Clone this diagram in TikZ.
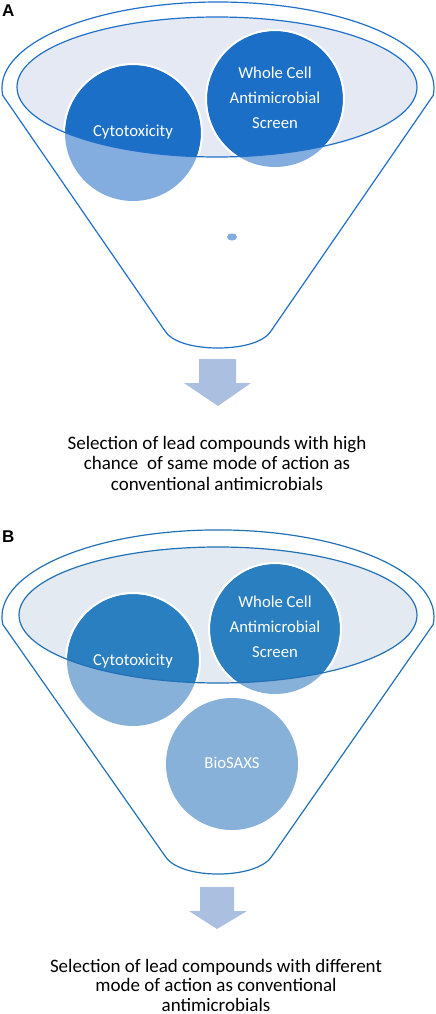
\documentclass[tikz,border=0pt]{standalone}
\usepackage{fontspec}
\setmainfont{Carlito}
\newfontfamily\panelfont{Liberation Sans}
\definecolor{adark}{HTML}{1C6FC6}
\definecolor{alight}{HTML}{83ADDF}
\definecolor{afill}{HTML}{E5E9F4}
\definecolor{aline}{HTML}{1F70C9}
\definecolor{bdark}{HTML}{2A7FC0}
\definecolor{blight}{HTML}{87B1D8}
\definecolor{bfill}{HTML}{E3EAF2}
\definecolor{bline}{HTML}{2271B5}
\definecolor{arrowc}{HTML}{ABBFE1}
\tikzset{
  funnelline/.style={line width=1.2pt},
  ring/.style={draw=white,line width=2pt},
  circtext/.style={text=white,font=\fontsize{16.7}{25}\selectfont,align=center,inner sep=0pt},
  captext/.style={text=black,font=\fontsize{19}{20.5}\selectfont,align=center,inner sep=0pt},
  panellabel/.style={font=\panelfont\bfseries\fontsize{17}{17}\selectfont,inner sep=0pt,anchor=north west},
  blockarrow/.style={fill=arrowc,draw=none}
}
\begin{document}
\begin{tikzpicture}[x=1pt,y=-1pt]
\useasboundingbox (0,0) rectangle (436,1014);

% ---------------- Panel A ----------------
\node[panellabel] (labA) at (2,5) {A};
\fill[afill] (217,87) ellipse[x radius=200,y radius=70];
\fill[alight] (133,133) circle[radius=68];
\fill[alight] (275,99) circle[radius=68];
\fill[alight] (232,237) ellipse[x radius=5,y radius=3.6];
\begin{scope}
  \clip (217,87) ellipse[x radius=200,y radius=70];
  \fill[adark] (133,133) circle[radius=68];
  \fill[adark] (275,99) circle[radius=68];
  \draw[ring] (133,133) circle[radius=69];
  \draw[ring] (275,99) circle[radius=69];
\end{scope}
\draw[aline,funnelline] (217,87) ellipse[x radius=200,y radius=70];
\draw[aline,funnelline] (165,331) -- (2.8,95.5)
  arc[start angle=175,end angle=365,x radius=216,y radius=86]
  -- (271,331) .. controls (265,341) and (245,348) .. (218,348)
  .. controls (191,348) and (171,341) .. (165,331);
\node[circtext] (cytoA) at (133,132) {Cytotoxicity};
\node[circtext] (wcA) at (275,98) {Whole Cell\\Antimicrobial\\Screen};
\fill[blockarrow] (199,359) -- (236,359) -- (236,383) -- (251,383) -- (218,406) -- (184,383) -- (199,383) -- cycle;
\node[captext] (selA) at (217,463) {Selection of lead compounds with high\\chance\ \ of same mode of action as\\conventional antimicrobials};

% ---------------- Panel B ----------------
\node[panellabel] (labB) at (2,531) {B};
\fill[bfill] (218,615) ellipse[x radius=199,y radius=68];
\fill[blight] (133,660) circle[radius=66];
\fill[blight] (275,629) circle[radius=65];
\fill[blight] (232,764) circle[radius=66];
\begin{scope}
  \clip (218,615) ellipse[x radius=199,y radius=68];
  \fill[bdark] (133,660) circle[radius=66];
  \fill[bdark] (275,629) circle[radius=65];
  \draw[ring] (133,660) circle[radius=67];
  \draw[ring] (275,629) circle[radius=66];
\end{scope}
\draw[bline,funnelline] (218,615) ellipse[x radius=199,y radius=68];
\draw[bline,funnelline] (165,856) -- (2.8,624.5)
  arc[start angle=175,end angle=365,x radius=216,y radius=87]
  -- (272,856) .. controls (266,866) and (246,874) .. (218,874)
  .. controls (190,874) and (171,866) .. (165,856);
\node[circtext] (cytoB) at (133,661) {Cytotoxicity};
\node[circtext] (wcB) at (275,627) {Whole Cell\\Antimicrobial\\Screen};
\node[circtext] (bio) at (232,763) {BioSAXS};
\fill[blockarrow] (200,887) -- (234,887) -- (234,911) -- (247,911) -- (217,929) -- (189,911) -- (200,911) -- cycle;
\node[captext,font=\fontsize{19}{19.5}\selectfont] (selB) at (216,985) {Selection of lead compounds with different\\mode of action as conventional\\antimicrobials};
\end{tikzpicture}
\end{document}
